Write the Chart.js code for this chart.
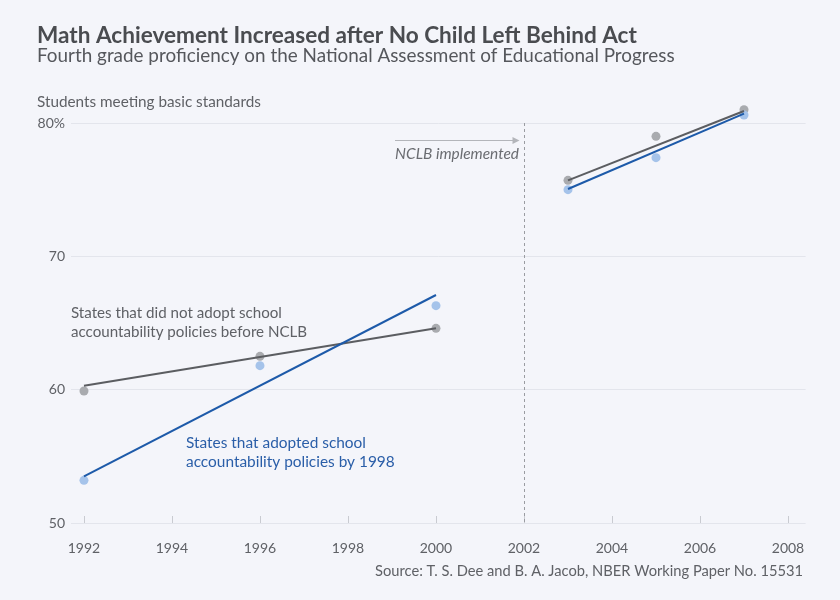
<!DOCTYPE html>
<html>
<head>
<meta charset="utf-8">
<script src="https://cdn.jsdelivr.net/npm/chart.js@4.4.1/dist/chart.umd.min.js"></script>
<style>
  html, body { margin: 0; padding: 0; background: #f4f5fa; }
  #wrap { width: 840px; height: 600px; }
</style>
</head>
<body>
<div id="wrap"><canvas id="chart" width="840" height="600"></canvas></div>
<script>
// NAEP 4th grade math, % meeting basic standards
const yearsPre = [1992, 1996, 2000];
const yearsPost = [2003, 2005, 2007];
const adoptPre = [53.2, 61.8, 66.3];
const noAdoptPre = [59.9, 62.5, 64.6];
const adoptPost = [75.0, 77.4, 80.6];
const noAdoptPost = [75.7, 79.0, 81.0];

// fitted trend line end points
const fitYearsPre = [1992, 2000];
const fitYearsPost = [2003, 2007];
const adoptFitPre = [53.5, 67.1];
const noAdoptFitPre = [60.3, 64.6];
const adoptFitPost = [75.05, 80.7];
const noAdoptFitPost = [75.7, 80.9];

const xTicks = [1992, 1994, 1996, 1998, 2000, 2002, 2004, 2006, 2008];
const yTicks = [50, 60, 70, 80];
const nclbYear = 2002;

const FONT = 'Lato, "Source Sans Pro", "Noto Sans", sans-serif';
const GRAY_LINE = '#5b5d61', GRAY_DOT = '#a9abaf';
const BLUE_LINE = '#1d5aa9', BLUE_DOT = '#a5c3ea';
const TEXT = '#5f6166';

const pts = (xs, ys) => xs.map((x, i) => ({ x, y: ys[i] }));

function fitFont(ctx, text, style, width) {
  ctx.font = `${style} 20px ${FONT}`;
  const size = 20 * width / ctx.measureText(text).width;
  ctx.font = `${style} ${size.toFixed(2)}px ${FONT}`;
}

const lineSet = (data, color) => ({
  type: 'scatter', data, showLine: true, borderColor: color, borderWidth: 2,
  pointRadius: 0, clip: false
});
const dotSet = (data, color) => ({
  type: 'scatter', data, showLine: false, backgroundColor: color, borderWidth: 0,
  pointRadius: 4.5, clip: false
});

const decorations = {
  id: 'decorations',
  beforeDraw(chart) {
    const { ctx, width, height } = chart;
    ctx.save();
    ctx.fillStyle = '#f4f5fa';
    ctx.fillRect(0, 0, width, height);
    ctx.restore();
  },
  beforeDatasetsDraw(chart) {
    const { ctx, chartArea, scales: { x, y } } = chart;
    ctx.save();
    // tick marks sitting on the baseline
    ctx.strokeStyle = '#c9cbd1';
    ctx.lineWidth = 1;
    xTicks.forEach(v => {
      const px = Math.round(x.getPixelForValue(v)) + 0.5;
      ctx.beginPath();
      ctx.moveTo(px, chartArea.bottom);
      ctx.lineTo(px, chartArea.bottom - 7);
      ctx.stroke();
    });
    // NCLB dashed line
    const nx = Math.round(x.getPixelForValue(nclbYear)) + 0.5;
    ctx.strokeStyle = '#9a9ca1';
    ctx.setLineDash([3, 3]);
    ctx.beginPath();
    ctx.moveTo(nx, y.getPixelForValue(80));
    ctx.lineTo(nx, chartArea.bottom);
    ctx.stroke();
    ctx.setLineDash([]);
    // arrow
    const ay = 140.5;
    ctx.strokeStyle = '#b3b5ba';
    ctx.fillStyle = '#b3b5ba';
    ctx.beginPath();
    ctx.moveTo(395, ay);
    ctx.lineTo(nx - 8, ay);
    ctx.stroke();
    ctx.beginPath();
    ctx.moveTo(nx - 5, ay);
    ctx.lineTo(nx - 12, ay - 3.5);
    ctx.lineTo(nx - 12, ay + 3.5);
    ctx.closePath();
    ctx.fill();
    ctx.restore();
  },
  afterDraw(chart) {
    const { ctx, scales: { x } } = chart;
    ctx.save();
    ctx.textBaseline = 'alphabetic';
    ctx.textAlign = 'left';

    ctx.fillStyle = '#4a4c50';
    fitFont(ctx, 'Math Achievement Increased after No Child Left Behind Act', 'bold', 600);
    ctx.fillText('Math Achievement Increased after No Child Left Behind Act', 37, 43);

    ctx.fillStyle = '#55575c';
    fitFont(ctx, 'Fourth grade proficiency on the National Assessment of Educational Progress', 'normal', 638);
    ctx.fillText('Fourth grade proficiency on the National Assessment of Educational Progress', 37, 62);

    ctx.fillStyle = TEXT;
    fitFont(ctx, 'Students meeting basic standards', 'normal', 224);
    ctx.fillText('Students meeting basic standards', 37, 107);

    fitFont(ctx, 'States that did not adopt school', 'normal', 211);
    ctx.fillText('States that did not adopt school', 71, 318);
    ctx.fillText('accountability policies before NCLB', 71, 337);

    ctx.fillStyle = '#2a5ea8';
    fitFont(ctx, 'States that adopted school', 'normal', 180);
    ctx.fillText('States that adopted school', 186, 448);
    ctx.fillText('accountability policies by 1998', 186, 467);

    ctx.fillStyle = '#6a6c71';
    ctx.textAlign = 'right';
    fitFont(ctx, 'NCLB implemented', 'italic', 124);
    ctx.fillText('NCLB implemented', x.getPixelForValue(nclbYear) - 5, 159);

    ctx.fillStyle = TEXT;
    fitFont(ctx, 'Source: T. S. Dee and B. A. Jacob, NBER Working Paper No. 15531', 'normal', 428);
    ctx.fillText('Source: T. S. Dee and B. A. Jacob, NBER Working Paper No. 15531', 803, 576);
    ctx.restore();
  }
};

new Chart(document.getElementById('chart'), {
  type: 'scatter',
  data: {
    datasets: [
      lineSet(pts(fitYearsPre, adoptFitPre), BLUE_LINE),
      lineSet(pts(fitYearsPre, noAdoptFitPre), GRAY_LINE),
      lineSet(pts(fitYearsPost, adoptFitPost), BLUE_LINE),
      lineSet(pts(fitYearsPost, noAdoptFitPost), GRAY_LINE),
      dotSet(pts(yearsPre, adoptPre), BLUE_DOT),
      dotSet(pts(yearsPre, noAdoptPre), GRAY_DOT),
      dotSet(pts(yearsPost, adoptPost), BLUE_DOT),
      dotSet(pts(yearsPost, noAdoptPost), GRAY_DOT),
    ]
  },
  options: {
    responsive: false,
    animation: false,
    // y runs to 81.5 so the 2007 dots stay inside the plot area; 80 still lands at y=123
    layout: { padding: { top: 103, right: 34.4, bottom: 0, left: 0 } },
    plugins: { legend: { display: false }, tooltip: { enabled: false } },
    scales: {
      x: {
        type: 'linear',
        min: 1991.705, max: 2008.4,
        afterBuildTicks: s => { s.ticks = xTicks.map(v => ({ value: v })); },
        afterFit: s => { s.height = 77; },
        grid: { display: false },
        border: { display: false },
        ticks: { color: TEXT, padding: 9, font: { family: FONT, size: 14 }, callback: v => String(v) }
      },
      y: {
        min: 50, max: 81.5,
        afterBuildTicks: s => { s.ticks = yTicks.map(v => ({ value: v })); },
        afterFit: s => { s.width = 71; },
        grid: { color: '#e3e5ec', drawTicks: false },
        border: { display: false },
        ticks: {
          color: TEXT, padding: 6, font: { family: FONT, size: 14 },
          callback: v => v === 80 ? '80%' : String(v)
        }
      }
    }
  },
  plugins: [decorations]
});
</script>
</body>
</html>
